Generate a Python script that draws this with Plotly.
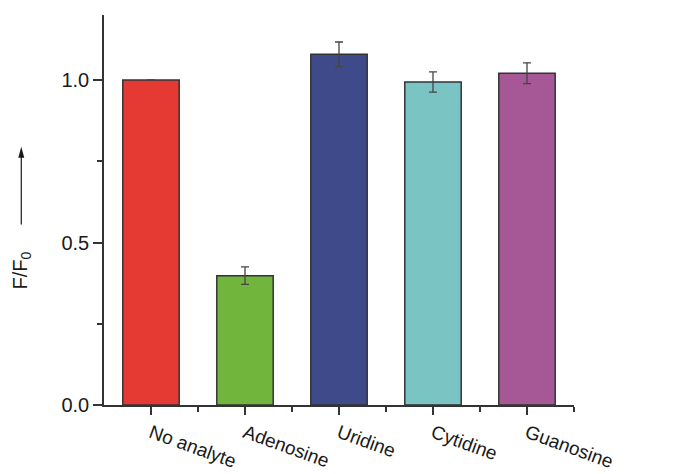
import plotly.graph_objects as go

# Relative fluorescence response for each nucleoside
categories = ["No analyte", "Adenosine", "Uridine", "Cytidine", "Guanosine"]
ratio = [1.0, 0.398, 1.079, 0.994, 1.021]
ratio_err = [0.0, 0.027, 0.038, 0.031, 0.032]
colors = ["#E53A33", "#72B53C", "#3F4A8A", "#7AC5C4", "#A55895"]
y_ticks = [0.0, 0.5, 1.0]

positions = list(range(len(categories)))
font = "Liberation Sans, Arial, sans-serif"
axis_color = "#333333"
ink = "#1a1a1a"

fig = go.Figure()
fig.add_trace(go.Bar(
    x=positions,
    y=ratio,
    width=0.6,
    marker=dict(color=colors, line=dict(color="#333333", width=1.5)),
    error_y=dict(type="data", array=ratio_err, visible=True,
                 color="#444444", thickness=1.3, width=4),
    showlegend=False,
))

fig.update_layout(
    width=686, height=474,
    margin=dict(l=104, r=112, t=15, b=69),
    paper_bgcolor="white", plot_bgcolor="white",
    font=dict(family=font, size=20, color=ink),
    xaxis=dict(
        range=[-0.5, 4.5], automargin=False,
        tickmode="array", tickvals=positions, ticktext=categories,
        tickangle=20,
        showgrid=False, zeroline=False,
        showline=True, linecolor=axis_color, linewidth=1.5,
        ticks="outside", ticklen=8, tickwidth=1.5, tickcolor=axis_color,
        minor=dict(tickmode="array", tickvals=[p + 0.5 for p in positions],
                   ticks="outside", ticklen=5, tickwidth=1.5, tickcolor=axis_color),
        tickfont=dict(size=19),
    ),
    yaxis=dict(
        range=[0, 1.2], automargin=False,
        tickmode="array", tickvals=y_ticks, tickformat=".1f",
        showgrid=False, zeroline=False,
        showline=True, linecolor=axis_color, linewidth=1.5,
        ticks="outside", ticklen=9, tickwidth=1.5, tickcolor=axis_color,
        minor=dict(tickmode="array", tickvals=[0.25, 0.75],
                   ticks="outside", ticklen=5, tickwidth=1.5, tickcolor=axis_color),
        tickfont=dict(size=20),
    ),
)

# Axis label "F/F0" with the upward arrow beside it
label_x = -0.176
fig.add_annotation(
    xref="paper", yref="y", x=label_x, y=0.415,
    text="F/F<sub>0</sub>", textangle=-90, showarrow=False,
    font=dict(size=20), xanchor="center", yanchor="middle",
)
fig.add_shape(
    type="line", xref="paper", yref="y",
    x0=label_x, x1=label_x, y0=0.555, y1=0.77,
    line=dict(color=ink, width=1.2),
)
fig.add_shape(
    type="path", xref="paper", yref="y",
    xsizemode="pixel", ysizemode="pixel",
    xanchor=label_x, yanchor=0.795,
    path="M 0,0 L -3,-11 L 3,-11 Z",
    fillcolor=ink, line=dict(width=0),
)

fig.write_html("out.html")
